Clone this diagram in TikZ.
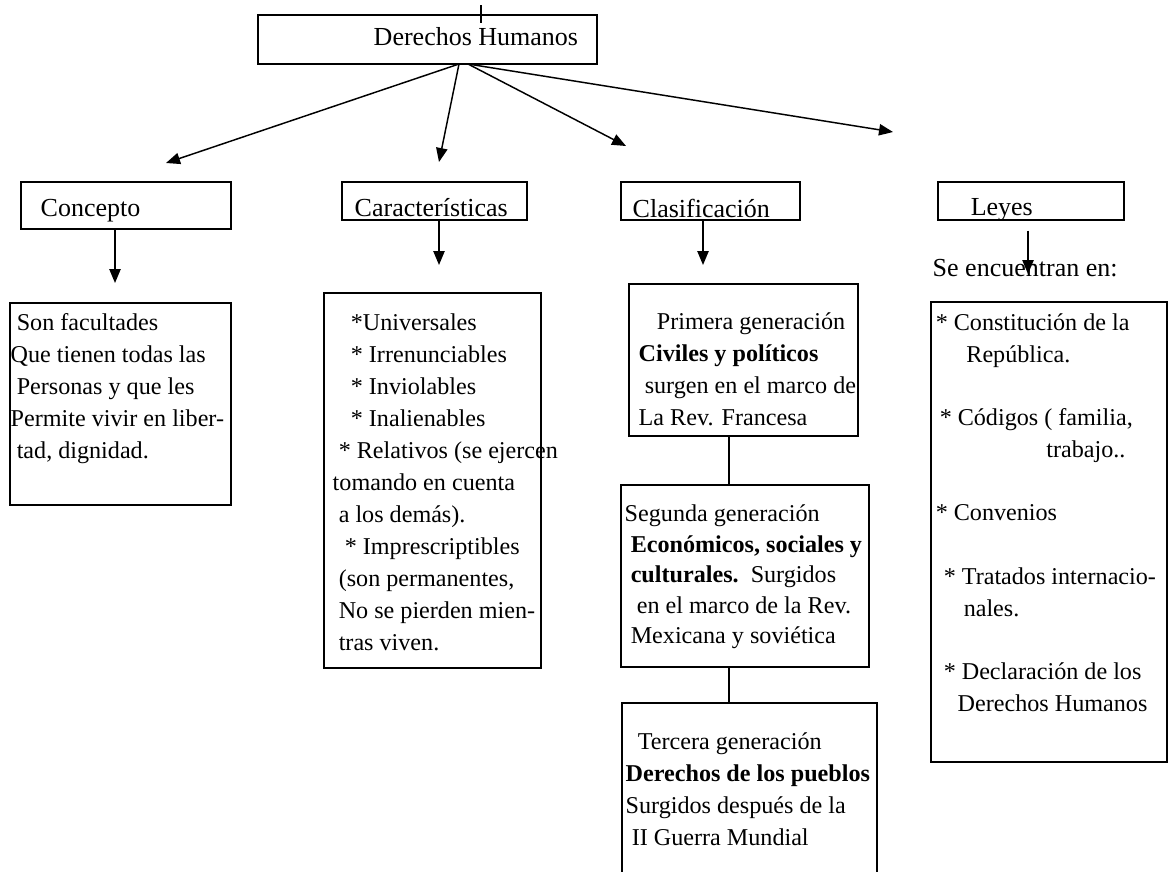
\documentclass[tikz,border=0pt]{standalone}
\usepackage{fontspec}
\setmainfont{Liberation Serif}
\usetikzlibrary{arrows.meta,fit}

\begin{document}
\begin{tikzpicture}[x=0.75pt,y=-0.75pt,>={Triangle[length=10.5pt,width=8.5pt]},line width=1.1pt,
  box/.style={draw,inner sep=0pt},
  boxtitle/.style={inner sep=0pt,anchor=north west,font=\fontsize{19.5}{24}\selectfont},
  boxtext/.style={inner sep=0pt,anchor=north west,align=left,font=\fontsize{18.1}{#1}\selectfont},
  boxtext/.default=24]
  \useasboundingbox (0,0) rectangle (1169,871);

  % titulo
  \node[box,fit={(258,15) (597,64)}] (dh) {};
  \node[boxtitle] (dhtext) at (373,27) {Derechos Humanos};
  \coordinate (tick) at (481,5);
  \draw (tick) -- (tick |- 0,23);

  % segundo nivel
  \node[box,fit={(21,182) (231,229)}] (concepto) {};
  \node[box,fit={(342,182) (527,220)}] (caract) {};
  \node[box,fit={(621,182) (800,220)}] (clasif) {};
  \node[box,fit={(938,182) (1124,220)}] (leyes) {};
  \node[boxtitle] at (40,199) {Concepto};
  \node[boxtitle] at (354,198) {Características};
  \node[boxtitle] at (632,198) {Clasificación};
  \node[boxtitle] at (970,198) {Leyes};

  \coordinate (dhA) at (459,64);
  \coordinate (dhB) at (468,64);
  \coordinate (t1) at (166,163);
  \coordinate (t2) at (439,162);
  \coordinate (t3) at (626,146);
  \coordinate (t4) at (893,132);
  \draw[->] (dhA) -- (t1);
  \draw[->] (dhA) -- (t2);
  \draw[->] (dhB) -- (t3);
  \draw[->] (dhB) -- (t4);

  % cajas de detalle
  \node[box,fit={(10,303) (231,505)}] (concdet) {};
  \node[boxtext] at (10,313) {~Son facultades\\Que tienen todas las\\~Personas y que les\\Permite vivir en liber-\\~tad, dignidad.};

  \node[box,fit={(324,293) (541,668)}] (cardet) {};
  \node[boxtext] at (332,313) {~~~*Universales\\~~~* Irrenunciables\\~~~* Inviolables\\~~~* Inalienables\\
    ~* Relativos (se ejercen\\tomando en cuenta\\~a los demás).\\~~* Imprescriptibles\\~(son permanentes,\\
    ~No se pierden mien-\\~tras viven.};

  \node[box,fit={(629,284) (858,436)}] (gen1) {};
  \node[boxtext] at (638,312) {~~~Primera generación\\\textbf{Civiles y políticos}\\~surgen en el marco de\\La Rev. Francesa};
  \node[box,fit={(621,485) (869,667)}] (gen2) {};
  \node[boxtext=22.9] at (624,504) {Segunda generación\\~\textbf{Económicos, sociales y}\\~\textbf{culturales.}~~Surgidos\\
    ~~en el marco de la Rev.\\~Mexicana y soviética};
  \node[box,fit={(622,703) (877,880)}] (gen3) {};
  \node[boxtext] at (625,732) {~~Tercera generación\\\textbf{Derechos de los pueblos}\\Surgidos después de la\\~II Guerra Mundial};
  \draw (gen1.south -| 729,0) -- (gen2.north -| 729,0);
  \draw (gen2.south -| 729,0) -- (gen3.north -| 729,0);

  \node[boxtitle] (seen) at (932,259) {Se encuentran en:};
  \node[box,fit={(931,302) (1167,762)}] (leydet) {};
  \node[boxtext=23.8] at (935,313) {{}* Constitución de la\\\hspace*{23pt}República.\\[23.8pt]
    \hspace*{3pt}* Códigos ( familia,\\\hspace*{83pt}trabajo..\\[23.8pt]
    {}* Convenios\\[23.8pt]
    \hspace*{6pt}* Tratados internacio-\\\hspace*{21pt}nales.\\[23.8pt]
    \hspace*{6pt}* Declaración de los\\\hspace*{16.5pt}Derechos Humanos};

  % flechas verticales
  \coordinate (c1) at (115,283);
  \coordinate (c2) at (439,265);
  \coordinate (c3) at (703,265);
  \coordinate (c4) at (1028,274);
  \draw[->] (concepto.south -| c1) -- (c1);
  \draw[->] (caract.south -| c2) -- (c2);
  \draw[->] (clasif.south -| c3) -- (c3);
  \draw[->] ([yshift=-7.5pt]leyes.south -| c4) -- (c4);
\end{tikzpicture}
\end{document}
